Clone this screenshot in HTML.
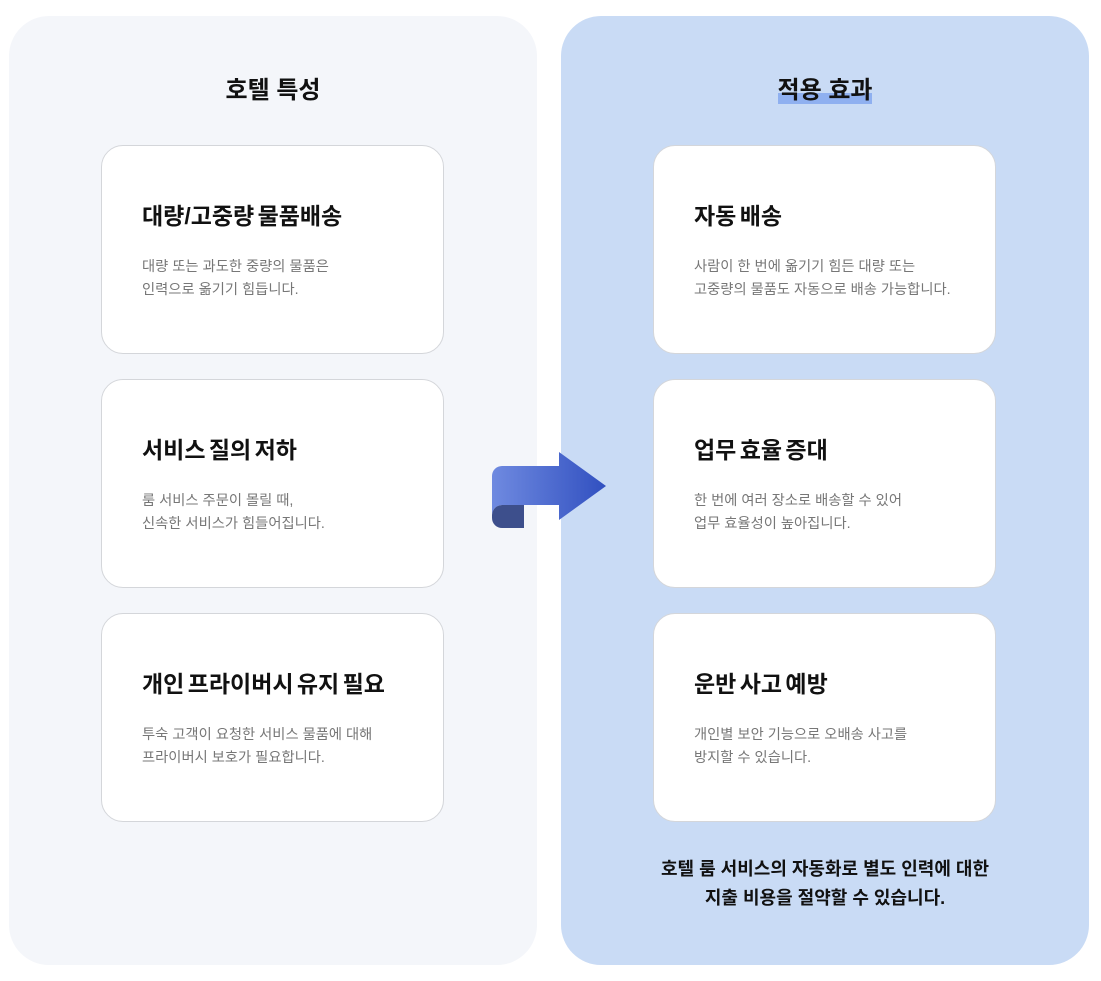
<!DOCTYPE html>
<html><head><meta charset="utf-8"><style>
body{margin:0;width:1101px;height:981px;background:#fff;position:relative;font-family:"Liberation Sans","Noto Sans CJK KR",sans-serif;overflow:hidden}
.panel{position:absolute;top:16px;width:528px;height:949px;border-radius:40px}
.card{position:absolute;width:341px;height:207px;background:#fff;border:1px solid #d4d6da;border-radius:22px}
.card h3{position:absolute;left:40px;top:51px;margin:0;font-size:23px;font-weight:700;color:#111;letter-spacing:0px;word-spacing:-3px}
.card p{position:absolute;left:40px;top:110px;margin:0;font-size:14.3px;line-height:23px;color:#777;letter-spacing:0px}
.title{position:absolute;top:70px;font-size:24px;font-weight:700;color:#111;width:528px;text-align:center}
</style></head><body>
<div class="panel" style="left:9px;background:#f4f6fa"></div>
<div class="panel" style="left:561px;background:#c9dbf5"></div>
<div class="title" style="left:9px">호텔 특성</div>
<div style="position:absolute;left:778px;top:93px;width:94px;height:11px;background:#8fb0f0"></div>
<div class="title" style="left:561px">적용 효과</div>

<div class="card" style="left:101px;top:145px"><h3>대량/고중량 물품배송</h3><p>대량 또는 과도한 중량의 물품은<br>인력으로 옮기기 힘듭니다.</p></div>
<div class="card" style="left:101px;top:379px"><h3>서비스 질의 저하</h3><p>룸 서비스 주문이 몰릴 때,<br>신속한 서비스가 힘들어집니다.</p></div>
<div class="card" style="left:101px;top:613px"><h3>개인 프라이버시 유지 필요</h3><p>투숙 고객이 요청한 서비스 물품에 대해<br>프라이버시 보호가 필요합니다.</p></div>

<div class="card" style="left:653px;top:145px"><h3>자동 배송</h3><p>사람이 한 번에 옮기기 힘든 대량 또는<br>고중량의 물품도 자동으로 배송 가능합니다.</p></div>
<div class="card" style="left:653px;top:379px"><h3>업무 효율 증대</h3><p>한 번에 여러 장소로 배송할 수 있어<br>업무 효율성이 높아집니다.</p></div>
<div class="card" style="left:653px;top:613px"><h3>운반 사고 예방</h3><p>개인별 보안 기능으로 오배송 사고를<br>방지할 수 있습니다.</p></div>

<div style="position:absolute;left:561px;top:855px;width:528px;text-align:center;font-size:18px;font-weight:700;line-height:29px;color:#111;letter-spacing:0px">호텔 룸 서비스의 자동화로 별도 인력에 대한<br>지출 비용을 절약할 수 있습니다.</div>

<svg style="position:absolute;left:0;top:0" width="1101" height="981">
<defs><linearGradient id="g" x1="0" x2="1"><stop offset="0" stop-color="#6f8ae0"/><stop offset="1" stop-color="#3150c0"/></linearGradient></defs>
<path d="M502,505 A10,10 0 0 0 492,515 L492,518 A10,10 0 0 0 502,528 L524,528 L524,505 Z" fill="#3d4f8c"/>
<path d="M502,466 L559,466 L559,452 L606,486 L559,520 L559,505 L502,505 A10,10 0 0 0 492,515 L492,476 A10,10 0 0 1 502,466 Z" fill="url(#g)"/>
</svg>
</body></html>
